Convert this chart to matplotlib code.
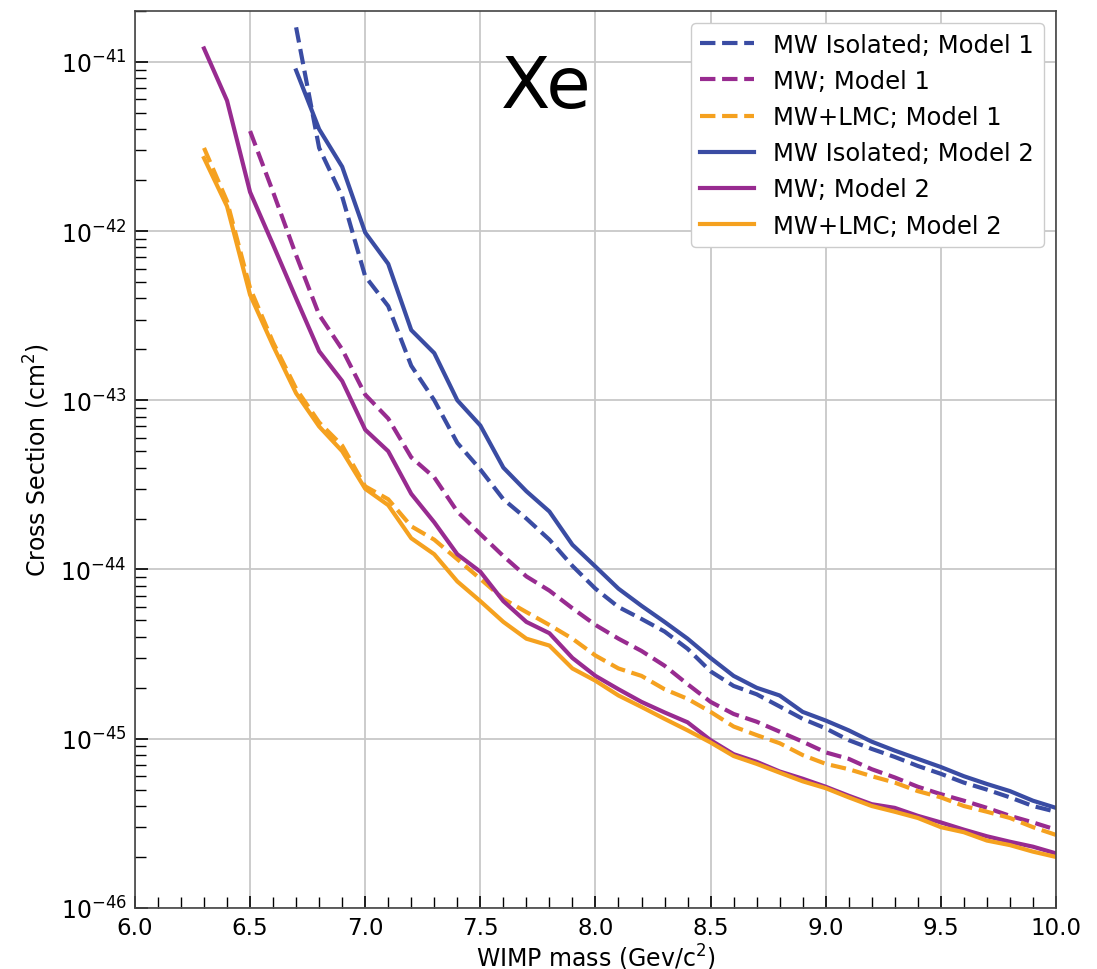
import numpy as np
import matplotlib.pyplot as plt

# WIMP masses (GeV/c^2) on a 0.1 grid, one grid per starting point
mass_63 = np.round(np.arange(6.3, 10.001, 0.1), 1)
mass_65 = np.round(np.arange(6.5, 10.001, 0.1), 1)
mass_67 = np.round(np.arange(6.7, 10.001, 0.1), 1)

# cross-section limits (cm^2), Model 1
iso_m1 = [1.6e-41, 3.1e-42, 1.6e-42, 5.4e-43, 3.6e-43, 1.6e-43, 1.0e-43, 5.6e-44,
          3.9e-44, 2.6e-44, 2.0e-44, 1.5e-44, 1.05e-44, 7.7e-45, 6.0e-45, 5.1e-45,
          4.3e-45, 3.4e-45, 2.5e-45, 2.05e-45, 1.83e-45, 1.55e-45, 1.31e-45, 1.15e-45,
          9.8e-46, 8.7e-46, 7.8e-46, 6.9e-46, 6.2e-46, 5.5e-46, 5.0e-46, 4.5e-46,
          4.0e-46, 3.7e-46]
mw_m1 = [3.9e-42, 1.7e-42, 7.2e-43, 3.2e-43, 2.0e-43, 1.08e-43, 7.8e-44, 4.6e-44,
         3.5e-44, 2.2e-44, 1.62e-44, 1.2e-44, 9.1e-45, 7.5e-45, 5.9e-45, 4.7e-45,
         3.9e-45, 3.3e-45, 2.7e-45, 2.1e-45, 1.65e-45, 1.4e-45, 1.26e-45, 1.1e-45,
         9.6e-46, 8.3e-46, 7.6e-46, 6.6e-46, 5.9e-46, 5.2e-46, 4.7e-46, 4.3e-46,
         3.9e-46, 3.5e-46, 3.2e-46, 2.9e-46]
lmc_m1 = [3.1e-42, 1.5e-42, 4.6e-43, 2.2e-43, 1.17e-43, 7.4e-44, 5.4e-44, 3.1e-44,
          2.6e-44, 1.8e-44, 1.5e-44, 1.15e-44, 8.8e-45, 6.7e-45, 5.6e-45, 4.7e-45,
          3.9e-45, 3.1e-45, 2.6e-45, 2.35e-45, 1.96e-45, 1.72e-45, 1.44e-45, 1.18e-45,
          1.05e-45, 9.4e-46, 8.0e-46, 7.1e-46, 6.6e-46, 6.0e-46, 5.5e-46, 4.9e-46,
          4.5e-46, 4.0e-46, 3.7e-46, 3.4e-46, 3.0e-46, 2.7e-46]

# cross-section limits (cm^2), Model 2
iso_m2 = [8.9e-42, 4.0e-42, 2.4e-42, 9.8e-43, 6.4e-43, 2.6e-43, 1.9e-43, 1.0e-43,
          7.1e-44, 4.0e-44, 2.9e-44, 2.2e-44, 1.4e-44, 1.04e-44, 7.7e-45, 6.1e-45,
          4.9e-45, 3.9e-45, 3.0e-45, 2.35e-45, 2.0e-45, 1.8e-45, 1.44e-45, 1.28e-45,
          1.12e-45, 9.6e-46, 8.5e-46, 7.6e-46, 6.8e-46, 6.0e-46, 5.4e-46, 4.9e-46,
          4.3e-46, 3.9e-46]
mw_m2 = [1.2e-41, 5.9e-42, 1.7e-42, 8.3e-43, 4.0e-43, 1.95e-43, 1.3e-43, 6.7e-44,
         5.0e-44, 2.8e-44, 1.9e-44, 1.23e-44, 9.7e-45, 6.5e-45, 4.9e-45, 4.2e-45,
         3.0e-45, 2.35e-45, 1.96e-45, 1.65e-45, 1.43e-45, 1.25e-45, 9.8e-46, 8.1e-46,
         7.3e-46, 6.4e-46, 5.8e-46, 5.2e-46, 4.6e-46, 4.1e-46, 3.9e-46, 3.5e-46,
         3.2e-46, 2.9e-46, 2.65e-46, 2.46e-46, 2.3e-46, 2.1e-46]
lmc_m2 = [2.7e-42, 1.4e-42, 4.2e-43, 2.1e-43, 1.1e-43, 7.0e-44, 5.0e-44, 3.0e-44,
          2.4e-44, 1.53e-44, 1.23e-44, 8.5e-45, 6.5e-45, 4.9e-45, 3.9e-45, 3.55e-45,
          2.6e-45, 2.2e-45, 1.8e-45, 1.54e-45, 1.31e-45, 1.12e-45, 9.5e-46, 7.9e-46,
          7.1e-46, 6.3e-46, 5.6e-46, 5.1e-46, 4.5e-46, 4.0e-46, 3.7e-46, 3.4e-46,
          3.0e-46, 2.8e-46, 2.5e-46, 2.35e-46, 2.15e-46, 2.0e-46]

blue = '#3a4ca3'
purple = '#982b90'
orange = '#f5a11f'
lw = 3

fig = plt.figure(figsize=(10.97, 9.7), dpi=100)
ax = fig.add_axes([0.123, 0.063, 0.8396, 0.9247])

ax.plot(mass_67, iso_m1, '--', color=blue, lw=lw, label='MW Isolated; Model 1')
ax.plot(mass_65, mw_m1, '--', color=purple, lw=lw, label='MW; Model 1')
ax.plot(mass_63, lmc_m1, '--', color=orange, lw=lw, label='MW+LMC; Model 1')
ax.plot(mass_67, iso_m2, '-', color=blue, lw=lw, label='MW Isolated; Model 2')
ax.plot(mass_63, mw_m2, '-', color=purple, lw=lw, label='MW; Model 2')
ax.plot(mass_63, lmc_m2, '-', color=orange, lw=lw, label='MW+LMC; Model 2')

ax.set_yscale('log')
ax.set_xlim(6.0, 10.0)
ax.set_ylim(1e-46, 2e-41)
ax.set_xticks(np.arange(6.0, 10.01, 0.5))
ax.set_xticks(np.arange(6.0, 10.01, 0.1), minor=True)
ax.grid(True, which='major', color='#c8c8c8', lw=1.3)

ax.tick_params(which='both', direction='in')
ax.tick_params(which='major', length=9, width=1.2)
ax.tick_params(which='minor', length=8, width=1.0)
ax.tick_params(axis='y', labelsize=17, pad=6)
ax.tick_params(axis='x', labelsize=16.5, pad=6)

for s in ax.spines.values():
    s.set_color('#444444')
    s.set_linewidth(1.2)

ax.set_xlabel('WIMP mass (Gev/c$^2$)', fontsize=17, labelpad=2)
ax.set_ylabel('Cross Section (cm$^2$)', fontsize=17, labelpad=6)

ax.text(0.447, 0.915, 'Xe', transform=ax.transAxes, fontsize=52,
        ha='center', va='center')

ax.legend(loc='upper right', fontsize=17.5, handlelength=2.2, labelspacing=0.5,
          framealpha=1.0)

plt.savefig('out.png', dpi=100)
